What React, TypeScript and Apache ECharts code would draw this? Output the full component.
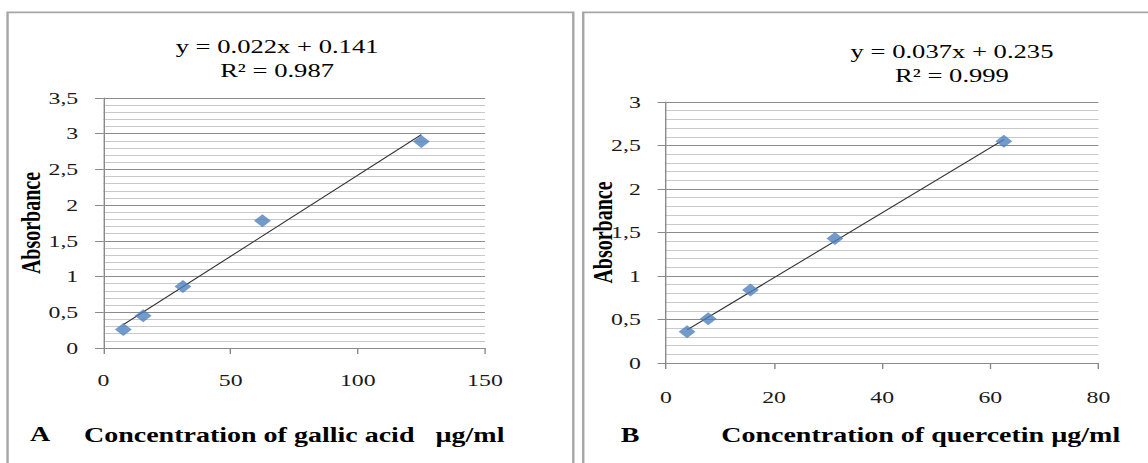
import React, { useEffect, useRef } from "react";
import * as echarts from "echarts";

// ---- data ----
const concGallic = [7.8125, 15.625, 31.25, 62.5, 125];
const absGallic = [0.26, 0.45, 0.86, 1.78, 2.89];
const concQuercetin = [3.90625, 7.8125, 15.625, 31.25, 62.5];
const absQuercetin = [0.36, 0.51, 0.84, 1.43, 2.55];

const yLabelsA = ["0", "0,5", "1", "1,5", "2", "2,5", "3", "3,5"];
const xLabelsA = ["0", "50", "100", "150"];
const yLabelsB = ["0", "0,5", "1", "1,5", "2", "2,5", "3"];
const xLabelsB = ["0", "20", "40", "60", "80"];

const eqA = ["y = 0.022x + 0.141", "R² = 0.987"];
const eqB = ["y = 0.037x + 0.235", "R² = 0.999"];
const xNameA = "Concentration of gallic acid   µg/ml";
const xNameB = "Concentration of quercetin µg/ml";
const yName = "Absorbance";

// least-squares trendline
function trend(xs: number[], ys: number[]) {
  const n = xs.length;
  const mx = xs.reduce((a, b) => a + b, 0) / n;
  const my = ys.reduce((a, b) => a + b, 0) / n;
  let sxy = 0;
  let sxx = 0;
  for (let i = 0; i < n; i++) {
    sxy += (xs[i] - mx) * (ys[i] - my);
    sxx += (xs[i] - mx) * (xs[i] - mx);
  }
  const k = sxy / sxx;
  const b = my - k * mx;
  const x0 = Math.min(...xs);
  const x1 = Math.max(...xs);
  return [
    [x0, k * x0 + b],
    [x1, k * x1 + b],
  ];
}

const STRETCH = 1.4; // reference image is horizontally stretched
const W = 1148 / STRETCH;
const H = 463;
const SERIF = '"Liberation Serif", "Times New Roman", serif';

export default function App() {
  const ref = useRef<HTMLDivElement>(null);

  useEffect(() => {
    if (!ref.current) return;
    const chart = echarts.init(ref.current, undefined, { renderer: "svg" });

    const yAxisCommon = (labels: string[], max: number, nameGap: number) => ({
      type: "value",
      min: 0,
      max,
      interval: 0.5,
      name: yName,
      nameLocation: "middle",
      nameGap,
      nameMoveOverlap: false,
      nameTextStyle: { fontFamily: SERIF, fontWeight: "bold", fontSize: 20, color: "#000" },
      axisLine: { show: true, lineStyle: { color: "#8a8a8a", width: 1 } },
      axisTick: { show: true, length: 6, lineStyle: { color: "#8a8a8a" } },
      axisLabel: {
        margin: 18,
        fontFamily: SERIF,
        fontSize: 17,
        color: "#1a1a1a",
        formatter: (v: number) => labels[Math.round(v / 0.5)] ?? "",
      },
      splitLine: { show: true, lineStyle: { color: "#8c8c8c", width: 1 } },
      minorTick: { show: false, splitNumber: 5 },
      minorSplitLine: { show: true, lineStyle: { color: "#c8c8c8", width: 1 } },
    });

    const xAxisCommon = (
      labels: string[],
      max: number,
      interval: number,
      name: string,
      nameGap: number,
      margin: number,
      padLeft: number
    ) => ({
      type: "value",
      min: 0,
      max,
      interval,
      name,
      nameLocation: "middle",
      nameGap,
      nameMoveOverlap: false,
      nameTextStyle: {
        fontFamily: SERIF,
        fontWeight: "bold",
        fontSize: 20,
        color: "#000",
        padding: [0, 0, 0, padLeft],
      },
      axisLine: { show: true, lineStyle: { color: "#8a8a8a", width: 1 } },
      axisTick: { show: true, length: 6, lineStyle: { color: "#8a8a8a" } },
      axisLabel: {
        margin,
        fontFamily: SERIF,
        fontSize: 17,
        color: "#1a1a1a",
        formatter: (v: number) => labels[Math.round(v / interval)] ?? "",
      },
      splitLine: { show: false },
    });

    const eqText = (lines: string[], cx: number, y0: number) =>
      lines.map((t, i) => ({
        type: "text",
        x: cx,
        y: y0 + i * 24,
        style: {
          text: t,
          align: "center",
          verticalAlign: "middle",
          font: `19px ${SERIF}`,
          fill: "#000",
        },
      }));

    chart.setOption({
      animation: false,
      backgroundColor: "#ffffff",
      grid: [
        { left: 73.9, top: 98, width: 272.5, height: 250, containLabel: false, outerBoundsMode: "none" },
        { left: 475.7, top: 102, width: 308.9, height: 261, containLabel: false, outerBoundsMode: "none" },
      ],
      xAxis: [
        { gridIndex: 0, ...xAxisCommon(xLabelsA, 150, 50, xNameA, 77, 24, 0) },
        { gridIndex: 1, ...xAxisCommon(xLabelsB, 80, 20, xNameB, 62, 26, 55) },
      ],
      yAxis: [
        { gridIndex: 0, ...yAxisCommon(yLabelsA, 3.5, 42) },
        { gridIndex: 1, ...yAxisCommon(yLabelsB, 3, 35.5) },
      ],
      series: [
        {
          type: "line",
          xAxisIndex: 0,
          yAxisIndex: 0,
          data: trend(concGallic, absGallic),
          showSymbol: false,
          symbol: "none",
          lineStyle: { color: "#333333", width: 1 },
          z: 2,
        },
        {
          type: "scatter",
          xAxisIndex: 0,
          yAxisIndex: 0,
          data: concGallic.map((x, i) => [x, absGallic[i]]),
          symbol: "diamond",
          symbolSize: [12, 13],
          itemStyle: { color: "#4f81bd" },
          z: 3,
        },
        {
          type: "line",
          xAxisIndex: 1,
          yAxisIndex: 1,
          data: trend(concQuercetin, absQuercetin),
          showSymbol: false,
          symbol: "none",
          lineStyle: { color: "#333333", width: 1 },
          z: 2,
        },
        {
          type: "scatter",
          xAxisIndex: 1,
          yAxisIndex: 1,
          data: concQuercetin.map((x, i) => [x, absQuercetin[i]]),
          symbol: "diamond",
          symbolSize: [12, 13],
          itemStyle: { color: "#4f81bd" },
          z: 3,
        },
      ],
      graphic: [
        {
          type: "rect",
          shape: { x: 5.4, y: 12.3, width: 404.1, height: 480 },
          style: { fill: "none", stroke: "#a6a6a6", lineWidth: 1.7 },
          silent: true,
        },
        {
          type: "rect",
          shape: { x: 416.6, y: 12.3, width: 430, height: 480 },
          style: { fill: "none", stroke: "#a6a6a6", lineWidth: 1.7 },
          silent: true,
        },
        ...eqText(eqA, 197.9, 46.7),
        ...eqText(eqB, 680, 51.7),
        {
          type: "text",
          x: 28.6,
          y: 434,
          style: {
            text: "A",
            align: "center",
            verticalAlign: "middle",
            font: `bold 20px ${SERIF}`,
            fill: "#000",
          },
        },
        {
          type: "text",
          x: 450,
          y: 435,
          style: {
            text: "B",
            align: "center",
            verticalAlign: "middle",
            font: `bold 20px ${SERIF}`,
            fill: "#000",
          },
        },
      ],
    });

    return () => chart.dispose();
  }, []);

  return (
    <div
      style={{
        position: "absolute",
        left: 0,
        top: 0,
        width: 1148,
        height: H,
        overflow: "hidden",
        background: "#fff",
      }}
    >
      <div
        ref={ref}
        style={{
          width: W,
          height: H,
          transform: `scaleX(${STRETCH})`,
          transformOrigin: "0 0",
        }}
      />
    </div>
  );
}
